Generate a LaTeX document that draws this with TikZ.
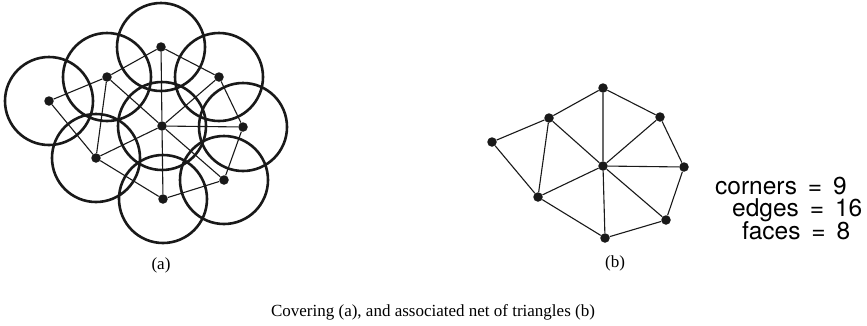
\documentclass[tikz,border=0pt]{standalone}
\usepackage{fontspec}
\usepackage{tikz}
\usetikzlibrary{positioning}
\setmainfont{Liberation Serif}
\newfontfamily\labelfont{TeX Gyre Heros}
\tikzset{
  dot/.style      = {circle, fill=black!90, minimum size=9.5pt, inner sep=0pt},
  cover/.style    = {draw=black!90, line width=2.6pt},
  edge/.style     = {draw=black!90, line width=1.1pt},
  sublbl/.style   = {font=\fontsize{17}{20}\selectfont, inner sep=0pt},
  count/.style    = {font=\labelfont\fontsize{24.5}{28}\selectfont, inner sep=0pt},
}
\begin{document}
\begin{tikzpicture}[x=1pt, y=-1pt]
  \useasboundingbox (0,0) rectangle (867,325);

  % ---------- (a) covering ------------------------------------------------
  \node[dot] (at)  at (161, 47) {};
  \node[dot] (aul) at (107, 77) {};
  \node[dot] (al)  at ( 49,101) {};
  \node[dot] (aur) at (219, 77) {};
  \node[dot] (ac)  at (162,126) {};
  \node[dot] (ar)  at (243,127) {};
  \node[dot] (all) at ( 96,158) {};
  \node[dot] (alr) at (224,180) {};
  \node[dot] (ab)  at (163,199) {};

  \foreach \p in {at,aul,al,aur,ac,ar,all,alr,ab}
    \draw[cover] (\p) circle[radius=44];

  \draw[edge] (at) -- (aul) (at) -- (aur) (at) -- (ac)
              (aul) -- (al) (aul) -- (all) (aul) -- (ac)
              (al) -- (all)
              (aur) -- (ac) (aur) -- (ar)
              (ac) -- (ar) (ac) -- (all) (ac) -- (alr) (ac) -- (ab)
              (ar) -- (alr) (all) -- (ab) (alr) -- (ab);

  \node[sublbl] (lbla) at (161,265) {(a)};

  % ---------- (b) net of triangles ----------------------------------------
  \node[dot] (bt)  at (603, 88) {};
  \node[dot] (bul) at (549,118) {};
  \node[dot] (bl)  at (492,142) {};
  \node[dot] (bur) at (660,117) {};
  \node[dot] (bc)  at (603,166) {};
  \node[dot] (br)  at (684,167) {};
  \node[dot] (bll) at (538,197) {};
  \node[dot] (blr) at (666,220) {};
  \node[dot] (bb)  at (605,238) {};

  \draw[edge] (bt) -- (bul) (bt) -- (bur) (bt) -- (bc)
              (bul) -- (bl) (bul) -- (bll) (bul) -- (bc)
              (bl) -- (bll)
              (bur) -- (bc) (bur) -- (br)
              (bc) -- (br) (bc) -- (bll) (bc) -- (blr) (bc) -- (bb)
              (br) -- (blr) (bll) -- (bb) (blr) -- (bb);

  \node[sublbl] (lblb) at (615,263) {(b)};

  % ---------- counts ------------------------------------------------------
  \node[count, anchor=base west] (corners) at (715,194) {corners \,=\, 9};
  \node[count, anchor=base west] (edges)   at (732,216) {edges \,=\, 16};
  \node[count, anchor=base west] (faces)   at (742,239) {faces \,=\, 8};

  % ---------- caption -----------------------------------------------------
  \node[sublbl] (caption) at (433,312)
    {Covering (a), and associated net of triangles (b)};
\end{tikzpicture}
\end{document}
